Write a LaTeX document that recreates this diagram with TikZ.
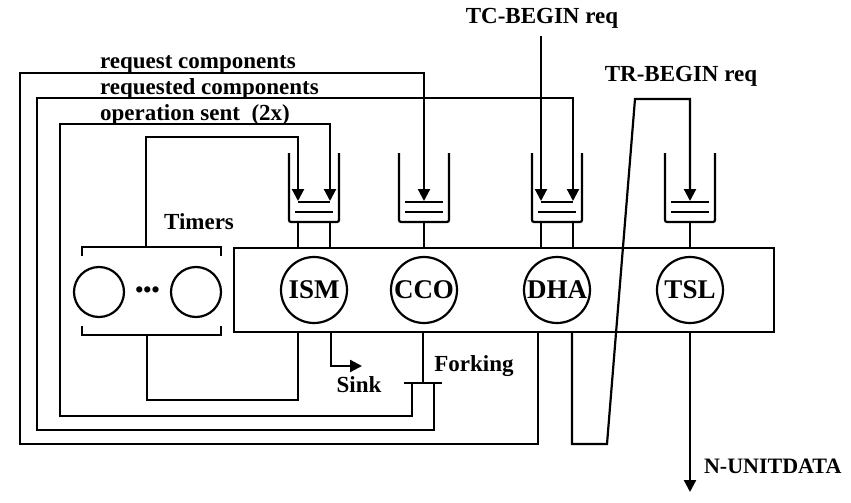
\documentclass[tikz,border=0pt]{standalone}
\usepackage{fontspec}
\setmainfont{Liberation Serif}
\usetikzlibrary{arrows.meta}

\begin{document}
\begin{tikzpicture}[x=1pt,y=-1pt,line width=2.2pt,
every node/.style={font=\fontsize{23}{23}\selectfont\bfseries},
proc/.style={draw,circle,minimum size=66pt,inner sep=0pt,font=\fontsize{27}{27}\selectfont\bfseries},
timer/.style={draw,circle,minimum size=50pt,inner sep=0pt},
flow/.style={-{Triangle[width=12pt,length=12pt]}},
lbl/.style={anchor=base west,inner sep=0pt},]
\useasboundingbox (0,0) rectangle (851,503);
\node[draw,minimum width=540pt,minimum height=84pt] (box) at (504,290) {};
\foreach \n/\x/\w in {ISM/314/16,CCO/424/19,DHA/557/16,TSL/690/19}{
  \node[proc] (\n) at (\x,290) {\n};
  \draw[rounded corners=2pt] (\x-25,153) -- (\x-25,222) -- (\x+25,222) -- (\x+25,153);
  \draw (\x-\w,202) -- (\x+\w,202) (\x-19,212) -- (\x+19,212);
  \coordinate (q\n) at (\x,201);
}
\foreach \x in {298,330,424,541,573,690}
  \draw (\x,222) -- (box.north -| \x,0);

\node[minimum width=137pt,minimum height=86pt] (tmr) at (151.5,291) {};
\draw (tmr.north west) ++(0,9) |- (tmr.north east) -- ++(0,9);
\draw (tmr.south west) ++(0,-9) |- (tmr.south east) -- ++(0,-9);
\node[timer] (t1) at (99,292) {};
\node[timer] (tn) at (196,292) {};
\node (dots) at (147.5,292) {\textbullet\textbullet\textbullet};
\node (tlab) at (199,222) {Timers};

\coordinate (fork) at (423,383);
\draw (box.south -| fork) -- (fork) ([xshift=-19pt]fork) -- ([xshift=19pt]fork);
\coordinate (tcin) at (541,36);
\coordinate (nout) at (690,492);

\draw[flow] (tmr.north -| 146,0) -- (146,137) -| ([xshift=-16pt]qISM);
\draw (tmr.south -| 147,0) -- (147,400) -| (box.south -| 298,0);
\draw[flow] ([xshift=-11pt]fork) -- ++(0,33) -| (60,124) -| ([xshift=16pt]qISM);
\draw[flow] ([xshift=11pt]fork) -- ++(0,47) -| (37,98) -| ([xshift=16pt]qDHA);
\draw[flow] (box.south -| 538,0) -- (538,444) -| (20,73) -| (qCCO);
\draw[flow] (box.south -| 331,0) |- (362,366);
\draw[flow] (box.south -| 572,0) |- (607,444) -- (635,99) -| (qTSL);
\draw[flow] (tcin) -- ([xshift=-16pt]qDHA);
\draw[flow] (box.south -| nout) -- (nout);

\node[lbl] (reqc) at (99,69) {request components};
\node[lbl] (reqd) at (99,94) {requested components};
\node[lbl] (opsent) at (99,120) {operation sent~ (2x)};
\node (tc) at (542,18) {TC-BEGIN req};
\node (tr) at (681,76) {TR-BEGIN req};
\node (fk) at (474,366) {Forking};
\node (sink) at (359,385) {Sink};
\node[anchor=west,inner sep=0pt,font=\fontsize{22}{22}\selectfont\bfseries] (nu) at (703,466) {N-UNITDATA};
\end{tikzpicture}
\end{document}
